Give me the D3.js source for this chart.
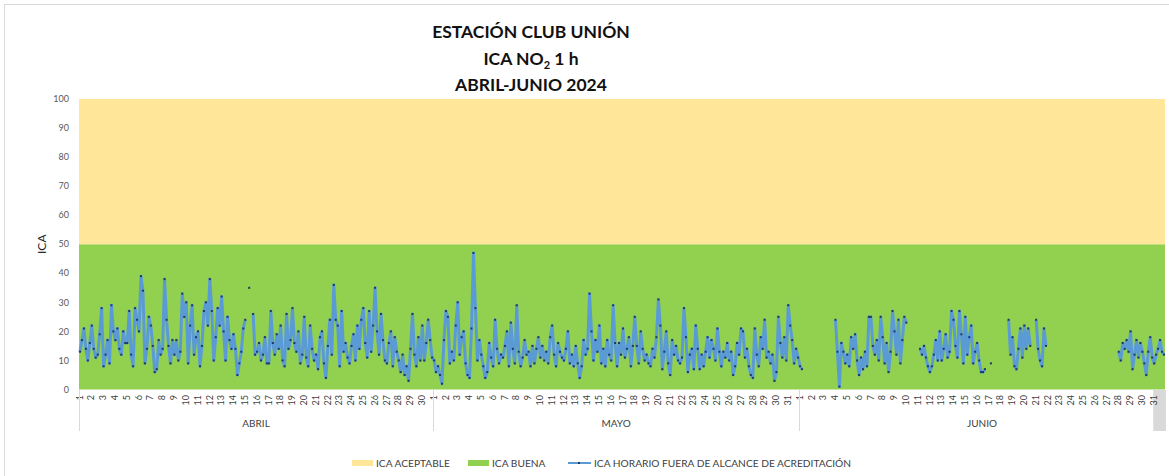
<!DOCTYPE html>
<html>
<head>
<meta charset="utf-8">
<script src="https://cdn.jsdelivr.net/npm/d3@7"></script>
<style>
    body { margin: 0; background: #fff; }
    text { font-family: Lato, "Open Sans", sans-serif; }
</style>
</head>
<body>
<div id="chart"></div>
<script>
(function () {
    var width = 1169,
        height = 476;

    // títulos
    var titleLines = ["ESTACIÓN CLUB UNIÓN", "ICA NO", "ABRIL-JUNIO 2024"];

    // meses y número de días en el eje
    var months = ["ABRIL", "MAYO", "JUNIO"];
    var monthDays = [30, 31, 31];

    // bandas ICA
    var bandNames = ["ICA BUENA", "ICA ACEPTABLE"];
    var bandLow = [0, 50];
    var bandHigh = [50, 100];
    var bandColors = ["#92D050", "#FFE699"];

    var yTicks = [0, 10, 20, 30, 40, 50, 60, 70, 80, 90, 100];

    // ICA horario (6 lecturas por día, cada 4 h aprox.)
    var abril = [
        [13,17,21,14,10,16],[22,14,11,12,19,28],[8,12,17,9,29,20],[17,21,14,12,20,16],
        [16,27,12,8,28,24],[20,39,34,9,14,25],[22,15,6,7,17,12],[14,38,24,15,9,17],
        [12,17,10,13,33,25],[30,9,22,29,12,18],[20,8,15,27,30,22],[38,27,10,18,28,22],
        [32,20,10,25,17,14],[19,14,5,9,13,21],[24,null,35,null,26,12],[13,16,10,12,18,9],
        [9,27,16,12,19,14],[22,10,8,26,14,17],[28,16,13,20,9,12],[25,11,8,22,14,10],
        [12,7,18,20,9,4],[15,24,12,36,24,22],[8,27,13,16,11,9],[15,19,10,22,14,24],
        [28,16,11,27,13,22],[35,20,12,26,17,10],[9,16,20,8,18,13],[10,6,12,5,8,3],
        [14,26,12,8,18,10],[22,10,16,24,17,11]
    ];
    var mayo = [
        [10,6,8,5,2,17],[27,25,9,13,10,22],[30,12,18,20,9,5],[4,21,47,28,10,17],
        [12,8,4,6,16,11],[8,24,14,9,12,11],[15,20,8,23,14,9],[29,13,8,11,17,12],
        [13,8,15,9,14,18],[11,15,10,13,9,18],[22,12,8,16,13,11],[10,14,20,9,12,8],
        [15,9,4,8,17,12],[14,33,20,10,17,13],[22,9,14,8,17,12],[10,29,16,8,16,12],
        [21,11,14,18,8,15],[25,15,9,20,14,10],[12,9,8,14,11,18],[31,22,7,13,20,9],
        [5,17,12,15,10,9],[11,28,18,6,12,14],[7,22,14,7,12,8],[13,18,11,17,14,10],
        [21,13,8,13,11,16],[10,13,5,8,16,12],[21,20,11,14,8,5],[4,21,12,8,18,14],
        [24,11,13,9,12,3],[6,25,16,11,18,10],[29,22,17,9,14,11]
    ];
    var junio = [
        [8,7,null,null,null,null],[null,null,null,null,null,null],[null,null,null,null,null,null],
        [24,13,1,16,13,9],[12,8,18,14,19,10],[5,11,7,13,8,25],[25,15,12,17,10,25],
        [18,9,16,6,13,27],[20,12,24,9,17,25],[23,null,null,null,null,null],[null,14,12,15,11,8],
        [6,8,12,17,10,20],[10,14,19,11,13,27],[24,15,11,27,19,9],[25,12,18,22,9,13],
        [16,10,6,6,7,null],[null,9,null,null,null,null],[null,null,null,null,24,12],
        [18,8,7,14,21,11],[22,14,21,15,null,null],[24,14,10,8,21,15],
        [null,null,null,null,null,null],[null,null,null,null,null,null],[null,null,null,null,null,null],
        [null,null,null,null,null,null],[null,null,null,null,null,null],[null,null,null,null,null,null],
        [13,10,16,14,17,13],[20,7,12,17,11,16],[13,9,5,13,18,11],[9,12,14,17,13,12]
    ];

    var seriesName = "ICA HORARIO FUERA DE ALCANCE DE ACREDITACIÓN";

    var totalDays = d3.sum(monthDays);

    var svg = d3.select("#chart")
        .append("svg")
        .attr("width", width)
        .attr("height", height);

    // marco del gráfico
    svg.append("rect")
        .attr("x", 4.5)
        .attr("y", 4.5)
        .attr("width", width + 20)
        .attr("height", height + 20)
        .attr("fill", "#fff")
        .attr("stroke", "#d9d9d9");

    var x = d3.scaleLinear().domain([0, totalDays]).range([79, 1165]);
    var y = d3.scaleLinear().domain([0, 100]).range([389.5, 99]);

    // bandas
    svg.selectAll(".band")
        .data(bandNames)
        .enter().append("rect")
        .attr("class", "band")
        .attr("x", x(0))
        .attr("width", x(totalDays) - x(0))
        .attr("y", function (d, i) { return y(bandHigh[i]); })
        .attr("height", function (d, i) { return y(bandLow[i]) - y(bandHigh[i]); })
        .attr("fill", function (d, i) { return bandColors[i]; });

    // eje Y
    svg.selectAll(".ytick")
        .data(yTicks)
        .enter().append("text")
        .attr("class", "ytick")
        .attr("x", 69)
        .attr("y", function (d) { return y(d); })
        .attr("dy", "0.35em")
        .attr("text-anchor", "end")
        .attr("font-size", 9)
        .attr("fill", "#595959")
        .text(function (d) { return d; });

    svg.append("text")
        .attr("transform", "translate(46," + y(50) + ") rotate(-90)")
        .attr("text-anchor", "middle")
        .attr("font-size", 12)
        .attr("fill", "#262626")
        .text("ICA");

    // eje X: días y meses
    var monthStart = [0];
    monthDays.forEach(function (n, i) { monthStart.push(monthStart[i] + n); });

    // celda gris del último día
    svg.append("rect")
        .attr("x", x(totalDays - 1))
        .attr("y", 390)
        .attr("width", x(totalDays) - x(totalDays - 1) + 1)
        .attr("height", 41)
        .attr("fill", "#d9d9d9");

    var days = [];
    monthDays.forEach(function (n, m) {
        for (var d = 1; d <= n; d++) days.push({ idx: monthStart[m] + d - 1, label: d });
    });

    svg.selectAll(".dayLabel")
        .data(days)
        .enter().append("text")
        .attr("class", "dayLabel")
        .attr("transform", function (d) {
            return "translate(" + (x(d.idx) + 0.5) + ",395) rotate(-90)";
        })
        .attr("dy", "0.35em")
        .attr("text-anchor", "end")
        .attr("font-size", 9)
        .attr("fill", "#404040")
        .text(function (d) { return d.label; });

    svg.selectAll(".monthSep")
        .data(monthStart)
        .enter().append("line")
        .attr("class", "monthSep")
        .attr("x1", function (d) { return Math.round(x(d)) + 0.5; })
        .attr("x2", function (d) { return Math.round(x(d)) + 0.5; })
        .attr("y1", 390)
        .attr("y2", 431)
        .attr("stroke", "#d9d9d9");

    svg.selectAll(".monthLabel")
        .data(months)
        .enter().append("text")
        .attr("class", "monthLabel")
        .attr("x", function (d, i) { return (x(monthStart[i]) + x(monthStart[i + 1])) / 2; })
        .attr("y", 427)
        .attr("text-anchor", "middle")
        .attr("font-size", 10)
        .attr("fill", "#404040")
        .text(function (d) { return d; });

    // serie horaria
    var points = [];
    [abril, mayo, junio].forEach(function (month, m) {
        month.forEach(function (day, d) {
            day.forEach(function (v, k) {
                points.push({ t: monthStart[m] + d + (k + 0.5) / day.length, v: v });
            });
        });
    });

    var line = d3.line()
        .defined(function (d) { return d.v !== null; })
        .x(function (d) { return x(d.t); })
        .y(function (d) { return y(d.v); });

    svg.append("path")
        .datum(points)
        .attr("fill", "none")
        .attr("stroke", "#5B9BD5")
        .attr("stroke-width", 3)
        .attr("stroke-linejoin", "round")
        .attr("d", line);

    svg.selectAll(".marker")
        .data(points.filter(function (d) { return d.v !== null; }))
        .enter().append("rect")
        .attr("class", "marker")
        .attr("x", function (d) { return x(d.t) - 1; })
        .attr("y", function (d) { return y(d.v) - 1; })
        .attr("width", 2)
        .attr("height", 2)
        .attr("fill", "#1F3864");

    // título
    var title = svg.append("g")
        .attr("font-weight", "bold")
        .attr("font-size", 17.5)
        .attr("fill", "#111")
        .attr("text-anchor", "middle");

    title.append("text").attr("x", 531).attr("y", 38).text(titleLines[0]);
    var t2 = title.append("text").attr("x", 531).attr("y", 65);
    t2.append("tspan").text(titleLines[1]);
    t2.append("tspan").attr("font-size", 11).attr("dy", 4).text("2");
    t2.append("tspan").attr("dy", -4).text(" 1 h");
    title.append("text").attr("x", 531).attr("y", 91).text(titleLines[2]);

    // leyenda
    var legend = svg.append("g").attr("font-size", 10.2).attr("fill", "#404040");

    legend.append("rect").attr("x", 352).attr("y", 460).attr("width", 21).attr("height", 6).attr("fill", bandColors[1]);
    legend.append("text").attr("x", 376).attr("y", 466.5).text(bandNames[1]);

    legend.append("rect").attr("x", 468).attr("y", 460).attr("width", 21).attr("height", 6).attr("fill", bandColors[0]);
    legend.append("text").attr("x", 492).attr("y", 466.5).text(bandNames[0]);

    legend.append("line").attr("x1", 568).attr("x2", 591).attr("y1", 463).attr("y2", 463)
        .attr("stroke", "#5B9BD5").attr("stroke-width", 2);
    legend.append("rect").attr("x", 578).attr("y", 462).attr("width", 2).attr("height", 2).attr("fill", "#1F3864");
    legend.append("text").attr("x", 594).attr("y", 466.5).text(seriesName);

})();
</script>
</body>
</html>
